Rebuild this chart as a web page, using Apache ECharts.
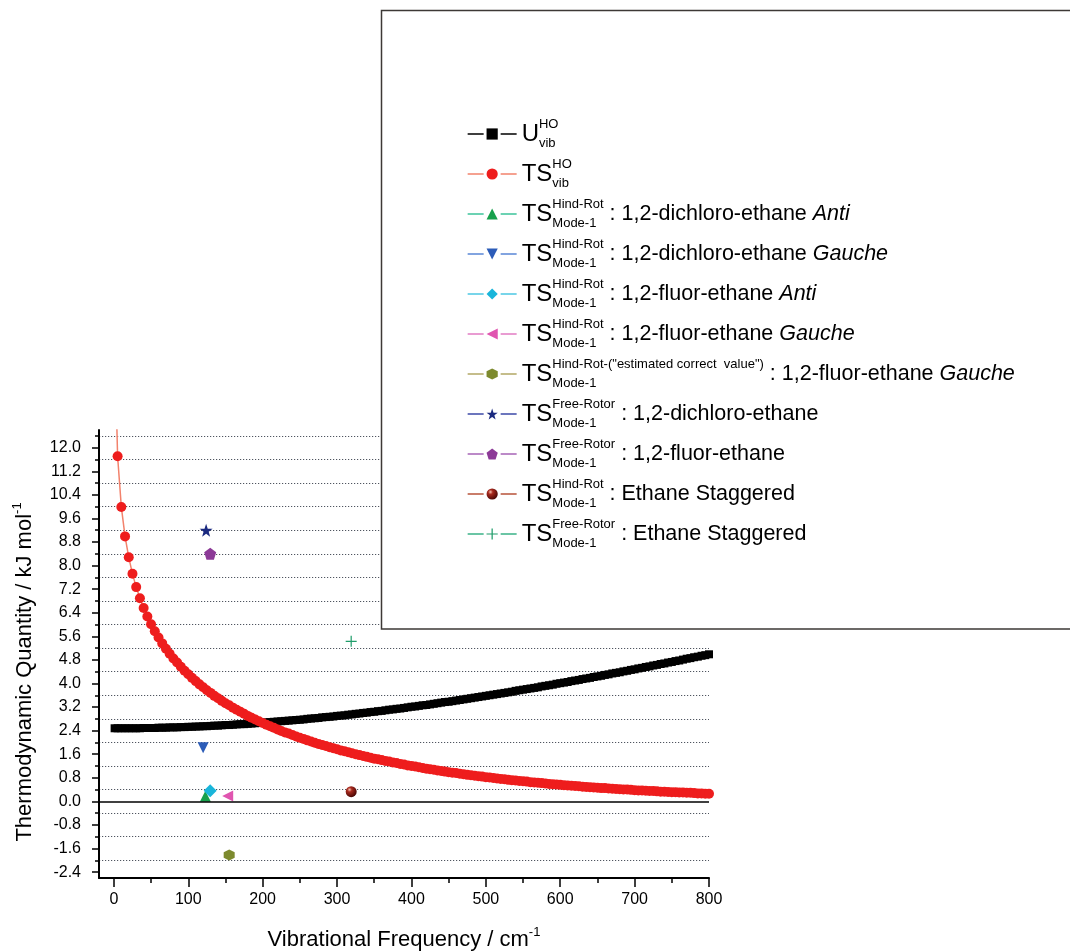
<!DOCTYPE html>
<html>
<head>
<meta charset="utf-8">
<title>Thermodynamic quantities vs vibrational frequency</title>
<script src="https://cdn.jsdelivr.net/npm/echarts@6/dist/echarts.min.js"></script>
<style>
  html, body { margin: 0; padding: 0; background: #fff; }
  #chart { width: 1070px; height: 952px; }
</style>
</head>
<body>
<div id="chart"></div>
<script>
// Harmonic-oscillator curves, sampled in cm^-1
const freq = [
  1,
  5, 10, 15, 20, 25, 30, 35, 40, 45, 50,
  55, 60, 65, 70, 75, 80, 85, 90, 95, 100,
  105, 110, 115, 120, 125, 130, 135, 140, 145, 150,
  155, 160, 165, 170, 175, 180, 185, 190, 195, 200,
  205, 210, 215, 220, 225, 230, 235, 240, 245, 250,
  255, 260, 265, 270, 275, 280, 285, 290, 295, 300,
  305, 310, 315, 320, 325, 330, 335, 340, 345, 350,
  355, 360, 365, 370, 375, 380, 385, 390, 395, 400,
  405, 410, 415, 420, 425, 430, 435, 440, 445, 450,
  455, 460, 465, 470, 475, 480, 485, 490, 495, 500,
  505, 510, 515, 520, 525, 530, 535, 540, 545, 550,
  555, 560, 565, 570, 575, 580, 585, 590, 595, 600,
  605, 610, 615, 620, 625, 630, 635, 640, 645, 650,
  655, 660, 665, 670, 675, 680, 685, 690, 695, 700,
  705, 710, 715, 720, 725, 730, 735, 740, 745, 750,
  755, 760, 765, 770, 775, 780, 785, 790, 795, 800
];

// U_vib^HO, kJ/mol
const uVib = [
  2.48,
  2.48, 2.48, 2.48, 2.48, 2.48, 2.48, 2.48, 2.49, 2.49, 2.49,
  2.49, 2.50, 2.50, 2.50, 2.51, 2.51, 2.51, 2.52, 2.52, 2.53,
  2.53, 2.54, 2.54, 2.55, 2.55, 2.56, 2.57, 2.57, 2.58, 2.59,
  2.59, 2.60, 2.61, 2.62, 2.62, 2.63, 2.64, 2.65, 2.66, 2.67,
  2.68, 2.69, 2.70, 2.71, 2.72, 2.73, 2.74, 2.75, 2.76, 2.77,
  2.78, 2.80, 2.81, 2.82, 2.83, 2.85, 2.86, 2.87, 2.88, 2.90,
  2.91, 2.92, 2.94, 2.95, 2.97, 2.98, 3.00, 3.01, 3.03, 3.04,
  3.06, 3.07, 3.09, 3.11, 3.12, 3.14, 3.15, 3.17, 3.19, 3.21,
  3.22, 3.24, 3.26, 3.27, 3.29, 3.31, 3.33, 3.35, 3.37, 3.38,
  3.40, 3.42, 3.44, 3.46, 3.48, 3.50, 3.52, 3.54, 3.56, 3.58,
  3.60, 3.62, 3.64, 3.66, 3.68, 3.70, 3.72, 3.75, 3.77, 3.79,
  3.81, 3.83, 3.85, 3.87, 3.90, 3.92, 3.94, 3.96, 3.99, 4.01,
  4.03, 4.05, 4.08, 4.10, 4.12, 4.15, 4.17, 4.19, 4.22, 4.24,
  4.26, 4.29, 4.31, 4.34, 4.36, 4.38, 4.41, 4.43, 4.46, 4.48,
  4.51, 4.53, 4.56, 4.58, 4.61, 4.63, 4.66, 4.68, 4.71, 4.73,
  4.76, 4.78, 4.81, 4.84, 4.86, 4.89, 4.91, 4.94, 4.96, 4.99
];

// T*S_vib^HO, kJ/mol
const tsVib = [
  15.70,
  11.71, 9.99, 8.99, 8.28, 7.72, 7.27, 6.89, 6.56, 6.27, 6.01,
  5.77, 5.56, 5.36, 5.18, 5.01, 4.85, 4.71, 4.57, 4.43, 4.31,
  4.19, 4.08, 3.97, 3.87, 3.77, 3.68, 3.58, 3.50, 3.41, 3.33,
  3.26, 3.18, 3.11, 3.04, 2.97, 2.90, 2.84, 2.78, 2.72, 2.66,
  2.60, 2.55, 2.50, 2.44, 2.39, 2.34, 2.30, 2.25, 2.20, 2.16,
  2.12, 2.07, 2.03, 1.99, 1.95, 1.91, 1.88, 1.84, 1.80, 1.77,
  1.73, 1.70, 1.67, 1.63, 1.60, 1.57, 1.54, 1.51, 1.48, 1.45,
  1.43, 1.40, 1.37, 1.35, 1.32, 1.30, 1.27, 1.25, 1.22, 1.20,
  1.18, 1.16, 1.13, 1.11, 1.09, 1.07, 1.05, 1.03, 1.01, 0.99,
  0.97, 0.96, 0.94, 0.92, 0.90, 0.89, 0.87, 0.85, 0.84, 0.82,
  0.81, 0.79, 0.78, 0.76, 0.75, 0.73, 0.72, 0.71, 0.69, 0.68,
  0.67, 0.65, 0.64, 0.63, 0.62, 0.61, 0.59, 0.58, 0.57, 0.56,
  0.55, 0.54, 0.53, 0.52, 0.51, 0.50, 0.49, 0.48, 0.47, 0.46,
  0.45, 0.45, 0.44, 0.43, 0.42, 0.41, 0.40, 0.40, 0.39, 0.38,
  0.37, 0.37, 0.36, 0.35, 0.35, 0.34, 0.33, 0.33, 0.32, 0.31,
  0.31, 0.30, 0.30, 0.29, 0.29, 0.28, 0.27, 0.27, 0.26, 0.26
];

// Single mode-1 torsion results (frequency in cm^-1, T*S in kJ/mol)
const pointFreq  = [123, 120, 129.5, 153, 155, 124, 129.5, 319, 319];
const pointValue = [0.17, 1.82, 0.36, 0.18, -1.82, 9.20, 8.40, 0.33, 5.43];

// Series names and legend text pieces
const seriesNames = [
  'U vib HO',
  'TS vib HO',
  'TS hindered rotor: 1,2-dichloro-ethane Anti',
  'TS hindered rotor: 1,2-dichloro-ethane Gauche',
  'TS hindered rotor: 1,2-fluor-ethane Anti',
  'TS hindered rotor: 1,2-fluor-ethane Gauche',
  'TS hindered rotor (estimated): 1,2-fluor-ethane Gauche',
  'TS free rotor: 1,2-dichloro-ethane',
  'TS free rotor: 1,2-fluor-ethane',
  'TS hindered rotor: Ethane Staggered',
  'TS free rotor: Ethane Staggered'
];
const legendMain = ['U', 'TS', 'TS', 'TS', 'TS', 'TS', 'TS', 'TS', 'TS', 'TS', 'TS'];
const legendSup = ['HO', 'HO', 'Hind-Rot', 'Hind-Rot', 'Hind-Rot', 'Hind-Rot',
  'Hind-Rot-("estimated correct  value")', 'Free-Rotor', 'Free-Rotor', 'Hind-Rot', 'Free-Rotor'];
const legendSub = ['vib', 'vib', 'Mode-1', 'Mode-1', 'Mode-1', 'Mode-1', 'Mode-1',
  'Mode-1', 'Mode-1', 'Mode-1', 'Mode-1'];
const legendText = ['', '', ' : 1,2-dichloro-ethane ', ' : 1,2-dichloro-ethane ',
  ' : 1,2-fluor-ethane ', ' : 1,2-fluor-ethane ', ' : 1,2-fluor-ethane ',
  ' : 1,2-dichloro-ethane', ' : 1,2-fluor-ethane', ' : Ethane Staggered', ' : Ethane Staggered'];
const legendItalic = ['', '', 'Anti', 'Gauche', 'Anti', 'Gauche', 'Gauche', '', '', '', ''];

// Axis tick values
const xLabelValues = [0, 100, 200, 300, 400, 500, 600, 700, 800];
const xMinorValues = [50, 150, 250, 350, 450, 550, 650, 750];
const yLabelValues = [-2.4, -1.6, -0.8, 0.0, 0.8, 1.6, 2.4, 3.2, 4.0, 4.8, 5.6, 6.4,
  7.2, 8.0, 8.8, 9.6, 10.4, 11.2, 12.0];
const yGridValues = [-2.0, -1.2, -0.4, 0.4, 1.2, 2.0, 2.8, 3.6, 4.4, 5.2, 6.0, 6.8,
  7.6, 8.4, 9.2, 10.0, 10.8, 11.6, 12.4];

const FONT = 'Liberation Sans';
const FONT_CSS = "'Liberation Sans', Arial, sans-serif";

// Marker shapes
const SYM_INV_TRI = 'path://M0,0 L10,0 L5,9 Z';
const SYM_LEFT_TRI = 'path://M9,0 L9,10 L0,5 Z';
const SYM_HEX = 'path://M5,0 L9.33,2.5 L9.33,7.5 L5,10 L0.67,7.5 L0.67,2.5 Z';
const SYM_STAR = 'path://M50,0 L61.8,34.5 L97.6,34.5 L68.8,55.9 L79.4,90.5 L50,69.1 L20.6,90.5 L31.2,55.9 L2.4,34.5 L38.2,34.5 Z';
const SYM_PENT = 'path://M50,0 L97.6,34.5 L79.4,90.5 L20.6,90.5 L2.4,34.5 Z';
const SYM_PLUS = 'path://M4.45,0 H5.55 V4.45 H10 V5.55 H5.55 V10 H4.45 V5.55 H0 V4.45 H4.45 Z';

const sphereFill = {
  type: 'radial', x: 0.35, y: 0.32, r: 0.7,
  colorStops: [
    { offset: 0, color: '#f6c2b2' },
    { offset: 0.3, color: '#a82a1e' },
    { offset: 1, color: '#4a0705' }
  ]
};

const pointStyles = [
  { symbol: 'triangle', size: 11, color: '#17a04c', line: '#3cc49a' },
  { symbol: SYM_INV_TRI, size: 11, color: '#2c5cb8', line: '#5a86d6' },
  { symbol: 'diamond', size: 13, color: '#19b5da', line: '#4cc8e4' },
  { symbol: SYM_LEFT_TRI, size: 11, color: '#e055b0', line: '#e27cc4' },
  { symbol: SYM_HEX, size: 11, color: '#7d8a2e', line: '#b3a865' },
  { symbol: SYM_STAR, size: 13, color: '#1b2a80', line: '#3d4aa8' },
  { symbol: SYM_PENT, size: 12, color: '#8c3a97', line: '#a664b6' },
  { symbol: 'circle', size: 11, color: sphereFill, line: '#b8533a' },
  { symbol: SYM_PLUS, size: 11, color: '#1f9c6a', line: '#3bb388' }
];

const measureCtx = document.createElement('canvas').getContext('2d');
function textWidth(str, size) {
  measureCtx.font = size + 'px ' + FONT_CSS;
  return measureCtx.measureText(str).width;
}

function legendLabel(name) {
  const i = seriesNames.indexOf(name);
  const sup = legendSup[i];
  const sub = legendSub[i];
  // stack super- and subscript: the first has zero advance, the longer one sets the width
  const stack = textWidth(sup, 13) >= textWidth(sub, 13)
    ? '{sb0|' + sub + '}{sp|' + sup + '}'
    : '{sp0|' + sup + '}{sb|' + sub + '}';
  let s = '{m|' + legendMain[i] + '}' + stack;
  if (legendText[i]) s += '{t|' + legendText[i] + '}';
  if (legendItalic[i]) s += '{it|' + legendItalic[i] + '}';
  return s;
}

const series = [
  {
    name: seriesNames[0],
    type: 'line',
    data: freq.map((f, i) => [f, uVib[i]]),
    symbol: 'rect',
    symbolSize: 8,
    itemStyle: { color: '#000' },
    lineStyle: { color: '#000', width: 1 },
    z: 2,
    markLine: {
      silent: true,
      symbol: 'none',
      label: { show: false },
      lineStyle: { color: '#000', width: 1.5, type: 'solid' },
      data: [{ yAxis: 0 }]
    }
  },
  {
    name: seriesNames[1],
    type: 'line',
    data: freq.map((f, i) => [f, tsVib[i]]),
    symbol: 'circle',
    symbolSize: 10,
    itemStyle: { color: '#ee1d1d' },
    lineStyle: { color: '#f2826c', width: 1.5 },
    z: 2
  }
];

pointStyles.forEach((st, j) => {
  series.push({
    name: seriesNames[j + 2],
    type: 'line',
    data: [[pointFreq[j], pointValue[j]]],
    symbol: st.symbol,
    symbolSize: st.size,
    itemStyle: { color: st.color },
    lineStyle: { color: st.line, width: 1.3 },
    z: 3
  });
});

const axisLineStyle = { color: '#000', width: 2 };
const tickLineStyle = { color: '#000', width: 1.5 };
const labelStyle = { fontSize: 16, color: '#000', fontFamily: FONT };

const richLegend = {
  m:   { fontSize: 24, lineHeight: 40, fontFamily: FONT, color: '#000' },
  sp:  { fontSize: 13, height: 21, verticalAlign: 'top', fontFamily: FONT, color: '#000' },
  sb:  { fontSize: 13, height: 21, verticalAlign: 'bottom', fontFamily: FONT, color: '#000' },
  sp0: { fontSize: 13, height: 21, width: 0, verticalAlign: 'top', fontFamily: FONT, color: '#000' },
  sb0: { fontSize: 13, height: 21, width: 0, verticalAlign: 'bottom', fontFamily: FONT, color: '#000' },
  t:   { fontSize: 21.5, fontFamily: FONT, color: '#000' },
  it:  { fontSize: 21.5, fontStyle: 'italic', fontFamily: FONT, color: '#000' }
};

const option = {
  animation: false,
  backgroundColor: '#fff',
  textStyle: { fontFamily: FONT },
  grid: { left: 99, right: 361, top: 430, bottom: 72 },
  graphic: [{
    type: 'rect',
    z: 3,
    silent: true,
    shape: { x: 381.5, y: 10.5, width: 720, height: 618.5 },
    style: { fill: '#fff', stroke: '#3d3936', lineWidth: 1.5 }
  }],
  legend: {
    orient: 'vertical',
    left: 467,
    top: 118,
    padding: 0,
    itemGap: 8,
    itemWidth: 49,
    itemHeight: 14,
    selectedMode: false,
    z: 6,
    data: seriesNames,
    formatter: legendLabel,
    textStyle: { color: '#000', fontFamily: FONT, rich: richLegend },
    lineStyle: { width: 1.3, type: [16, 17] }
  },
  xAxis: [
    {
      type: 'value', min: -20, max: 800, position: 'bottom',
      axisLine: { show: true, onZero: false, lineStyle: axisLineStyle },
      axisTick: { show: true, customValues: xLabelValues, length: 9, lineStyle: tickLineStyle },
      axisLabel: Object.assign({ customValues: xLabelValues, margin: 14 }, labelStyle),
      splitLine: { show: false },
      name: '{n|Vibrational Frequency / cm}{s|-1}',
      nameLocation: 'middle',
      nameGap: 48,
      nameTextStyle: {
        rich: {
          n: { fontSize: 22, lineHeight: 28, fontFamily: FONT, color: '#000' },
          s: { fontSize: 13, height: 12, verticalAlign: 'top', fontFamily: FONT, color: '#000' }
        }
      }
    },
    {
      type: 'value', min: -20, max: 800, position: 'bottom',
      axisLine: { show: false, onZero: false },
      axisTick: { show: true, customValues: xMinorValues, length: 5, lineStyle: tickLineStyle },
      axisLabel: { show: false },
      splitLine: { show: false }
    }
  ],
  yAxis: [
    {
      type: 'value', min: -2.6, max: 12.6, position: 'left',
      axisLine: { show: true, onZero: false, lineStyle: axisLineStyle },
      axisTick: { show: true, customValues: yLabelValues, length: 7, lineStyle: tickLineStyle },
      axisLabel: Object.assign({
        customValues: yLabelValues,
        margin: 18,
        formatter: v => Number(v).toFixed(1)
      }, labelStyle),
      splitLine: { show: false },
      name: '{n|Thermodynamic Quantity / kJ mol}{s|-1}',
      nameLocation: 'middle',
      nameRotate: 90,
      nameGap: 60,
      nameTextStyle: {
        padding: [0, 36, 0, 0],
        rich: {
          n: { fontSize: 22, lineHeight: 28, fontFamily: FONT, color: '#000' },
          s: { fontSize: 13, height: 12, verticalAlign: 'top', fontFamily: FONT, color: '#000' }
        }
      }
    },
    {
      type: 'value', min: -2.6, max: 12.6, position: 'left',
      axisLine: { show: false, onZero: false },
      axisTick: { show: true, customValues: yGridValues, length: 4, lineStyle: tickLineStyle },
      axisLabel: { show: false },
      splitLine: { show: true, lineStyle: { color: '#4f5560', width: 1.2, type: [1.2, 1.8] } }
    }
  ],
  series: series
};

const chart = echarts.init(document.getElementById('chart'), null, { renderer: 'canvas', width: 1070, height: 952 });
chart.setOption(option);
</script>
</body>
</html>
